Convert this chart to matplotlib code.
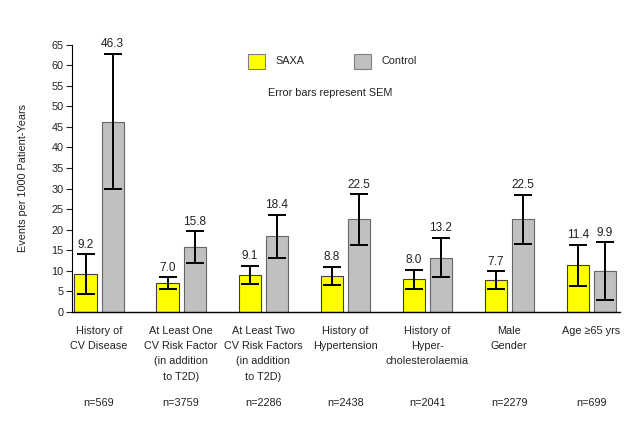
import matplotlib
matplotlib.use("Agg")
import matplotlib.pyplot as plt
from matplotlib.patches import Rectangle

plt.rcParams['font.family'] = ['Liberation Sans', 'DejaVu Sans']

categories = [
    "History of\nCV Disease",
    "At Least One\nCV Risk Factor\n(in addition\nto T2D)",
    "At Least Two\nCV Risk Factors\n(in addition\nto T2D)",
    "History of\nHypertension",
    "History of\nHyper-\ncholesterolaemia",
    "Male\nGender",
    "Age \u226565 yrs",
]
n_labels = ["n=569", "n=3759", "n=2286", "n=2438", "n=2041", "n=2279", "n=699"]
saxa = [9.2, 7.0, 9.1, 8.8, 8.0, 7.7, 11.4]
saxa_sem = [4.8, 1.5, 2.2, 2.2, 2.3, 2.2, 5.0]
control = [46.3, 15.8, 18.4, 22.5, 13.2, 22.5, 9.9]
control_sem = [16.5, 3.8, 5.3, 6.1, 4.8, 6.0, 7.1]
yticks = list(range(0, 70, 5))

W, H = 631, 422
fig = plt.figure(figsize=(W / 100, H / 100), dpi=100)
ax = fig.add_axes([72 / W, (H - 312) / H, (620 - 72) / W, (312 - 44.6) / H])

x = list(range(len(categories)))
bw = 0.27
off = 0.165
xs = [i - off for i in x]
xc = [i + off for i in x]

ekw = dict(ecolor='black', elinewidth=1.4, capsize=6.5, capthick=1.4)
ax.bar(xs, saxa, bw, color='#ffff00', edgecolor='#404040', linewidth=0.8,
       yerr=saxa_sem, error_kw=ekw, zorder=2)
ax.bar(xc, control, bw, color='#c0c0c0', edgecolor='#666666', linewidth=0.8,
       yerr=control_sem, error_kw=ekw, zorder=2)

for xi, v, e in zip(xs, saxa, saxa_sem):
    ax.annotate(f"{v:.1f}", (xi, v + e), xytext=(0, 2.5), textcoords='offset points',
                ha='center', va='bottom', fontsize=8.5, color='#222222')
for xi, v, e in zip(xc, control, control_sem):
    ax.annotate(f"{v:.1f}", (xi, v + e), xytext=(0, 2.5), textcoords='offset points',
                ha='center', va='bottom', fontsize=8.5, color='#222222')

ax.set_xlim(-0.33, 6.35)
ax.set_ylim(0, 65)
ax.set_yticks(yticks)
ax.tick_params(axis='y', direction='out', length=4, width=0.8, labelsize=7.8,
               pad=2, colors='#222222')
ax.set_xticks([])
for s in ['top', 'right']:
    ax.spines[s].set_visible(False)
ax.spines['left'].set_linewidth(0.8)
ax.spines['bottom'].set_linewidth(1.0)
ax.set_ylabel("Events per 1000 Patient-Years", fontsize=7.8, color='#222222', labelpad=17)

trans = ax.get_xaxis_transform()
px = 1.0 / (312 - 44.6)
for xi, lab, n in zip(x, categories, n_labels):
    ax.text(xi, -14 * px, lab, transform=trans, ha='center', va='top',
            fontsize=7.8, linespacing=1.65, color='#222222')
    ax.text(xi, -91 * px, n, transform=trans, ha='center', va='center',
            fontsize=7.8, color='#222222')

# legend drawn in figure pixel coordinates
def fig_rect(x0, y0, w, h, fc, ec):
    fig.patches.append(Rectangle((x0 / W, 1 - (y0 + h) / H), w / W, h / H,
                                 facecolor=fc, edgecolor=ec, linewidth=0.8,
                                 transform=fig.transFigure))

fig_rect(248, 54, 17, 15, '#ffff00', '#808080')
fig.text(275 / W, 1 - 61.5 / H, "SAXA", fontsize=7.8, va='center', ha='left', color='#222222')
fig_rect(354, 54, 17, 15, '#c0c0c0', '#808080')
fig.text(381 / W, 1 - 61.5 / H, "Control", fontsize=7.8, va='center', ha='left', color='#222222')
fig.text(330 / W, 1 - 93 / H, "Error bars represent SEM", fontsize=7.8,
         va='center', ha='center', color='#222222')

fig.savefig("out.png", dpi=100)
